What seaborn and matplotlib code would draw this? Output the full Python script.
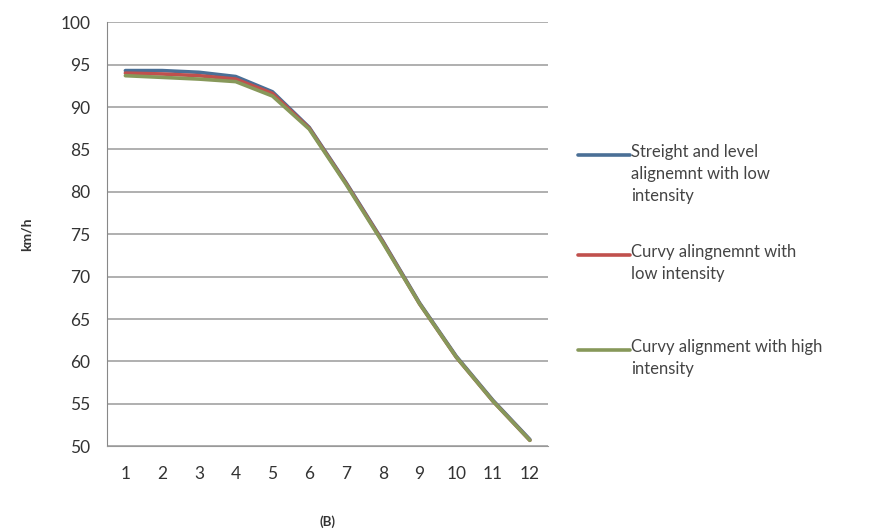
import pandas as pd
import matplotlib.pyplot as plt
from matplotlib.lines import Line2D
import seaborn as sns

# Waarden
punten = list(range(1, 13))
rechte_laag = [94.3, 94.3, 94.1, 93.6, 91.8, 87.6, 81.1, 74.2, 66.9, 60.6, 55.4, 50.8]
bochtig_laag = [94.0, 93.9, 93.7, 93.3, 91.6, 87.5, 81.0, 74.1, 66.8, 60.5, 55.3, 50.7]
bochtig_hoog = [93.7, 93.5, 93.3, 93.0, 91.3, 87.4, 80.9, 74.0, 66.8, 60.5, 55.3, 50.7]

reeksen = ["Streight and level\nalignemnt with low\nintensity",
           "Curvy alingnemnt with\nlow intensity",
           "Curvy alignment with high\nintensity"]
kleuren = ["#4a6f96", "#c0504d", "#87985a"]

df = pd.DataFrame({
    "punt": punten * 3,
    "kmh": rechte_laag + bochtig_laag + bochtig_hoog,
    "reeks": [reeksen[0]] * 12 + [reeksen[1]] * 12 + [reeksen[2]] * 12,
})

sns.set_style("white")
plt.rcParams['font.family'] = ['Lato', 'DejaVu Sans']

fig = plt.figure(figsize=(8.8, 5.3), dpi=100)
ax = fig.add_axes([0.1216, 0.158, 0.5014, 0.800])

sns.lineplot(data=df, x="punt", y="kmh", hue="reeks", palette=kleuren,
             linewidth=2.6, legend=False, ax=ax)

ax.set_xlim(0.5, 12.5)
ax.set_ylim(50, 100)
ax.set_yticks(range(50, 101, 5))
ax.set_xticks(punten)
ax.set_xticklabels([str(p) for p in punten])
ax.set_xticks([p + 0.5 for p in range(0, 13)], minor=True)
ax.tick_params(axis='x', which='major', length=0, pad=14, labelsize=12.5, colors='#333333')
ax.tick_params(axis='x', which='minor', length=4, color='#999999', direction='out')
ax.tick_params(axis='y', length=4, color='#999999', direction='out', labelsize=12.5,
               colors='#333333', pad=8)
ax.yaxis.grid(True, color='#9a9a9a', linewidth=1.1)
ax.set_axisbelow(True)
for s in ['top', 'right']:
    ax.spines[s].set_visible(False)
ax.spines['left'].set_color('#888888')
ax.spines['bottom'].set_color('#999999')

ax.set_ylabel("km/h", fontsize=10, fontweight='bold', color='#333333', labelpad=20)
ax.set_xlabel("(B)", fontsize=9.5, fontweight='bold', color='#333333', labelpad=24)

# Legenda handmatig, lijnstuk bij de eerste tekstregel
legenda_y = [155, 255, 350]
for naam, kleur, y in zip(reeksen, kleuren, legenda_y):
    yf = 1 - y / 530
    fig.add_artist(Line2D([578 / 880, 630 / 880], [yf, yf], color=kleur, linewidth=2.6,
                          transform=fig.transFigure))
    fig.text(631 / 880, yf + 11 / 530, naam, fontsize=12, color='#444444',
             va='top', ha='left', linespacing=1.45)

fig.savefig("out.png", dpi=100)
